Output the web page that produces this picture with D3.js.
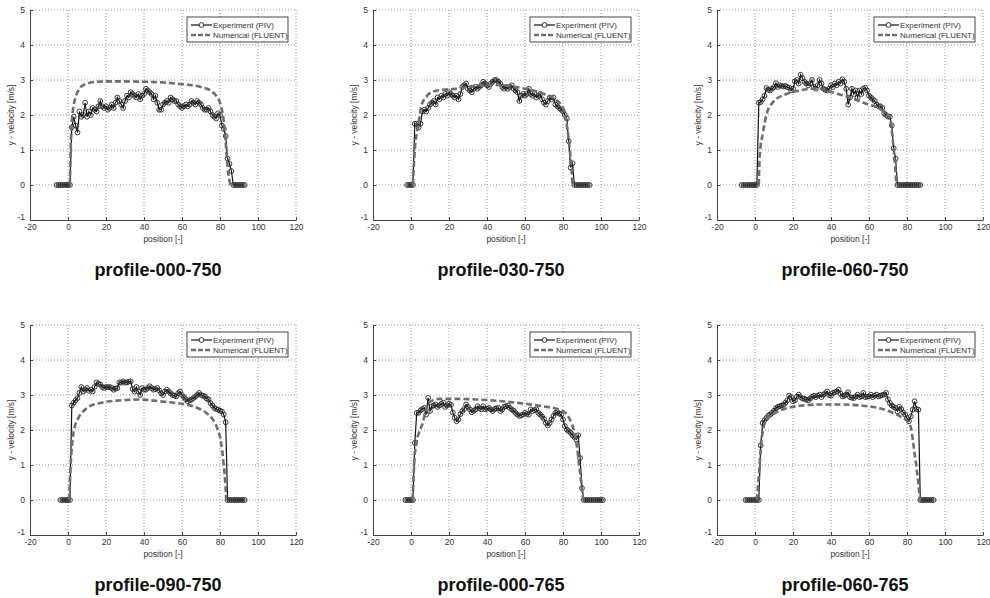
<!DOCTYPE html>
<html>
<head>
<meta charset="utf-8">
<script src="https://cdn.jsdelivr.net/npm/d3@7"></script>
<style>
  body { margin: 0; background: #fff; }
  svg { display: block; font-family: "Liberation Sans", Arial, sans-serif; }
</style>
</head>
<body>
<svg id="fig" width="990" height="598"></svg>
<script>
// tick values shared by all panels
var xTicks = [-20, 0, 20, 40, 60, 80, 100, 120];
var yTicks = [-1, 0, 1, 2, 3, 4, 5];

var titles = ["profile-000-750", "profile-030-750", "profile-060-750",
              "profile-090-750", "profile-000-765", "profile-060-765"];

// PIV experiment: first position and velocities at unit spacing
var expStart = [-6, -2, -7, -4, -3, -5];

var exp000750 = [0,0,0,0,0,0,0,0,1.65,1.95,1.7,1.5,2.1,1.95,2.0,2.35,1.95,2.1,2.0,2.2,2.15,2.1,2.25,2.4,2.25,2.2,
  2.25,2.15,2.2,2.3,2.2,2.35,2.5,2.4,2.3,2.2,2.4,2.55,2.5,2.65,2.6,2.55,2.5,2.6,2.45,2.55,2.6,2.75,2.7,2.65,
  2.6,2.45,2.55,2.35,2.15,2.15,2.3,2.35,2.4,2.35,2.5,2.45,2.4,2.4,2.3,2.25,2.2,2.25,2.3,2.25,2.3,2.4,2.35,2.3,
  2.4,2.35,2.3,2.2,2.15,2.15,2.2,2.1,2.0,1.95,1.9,2.05,2.0,1.7,1.6,1.4,0.75,0.6,0.4,0,0,0,0,0,0,0];
var exp030750 = [0,0,0,0,1.75,1.75,1.65,1.75,2.1,2.15,2.1,2.2,2.3,2.35,2.4,2.3,2.5,2.45,2.55,2.5,2.6,2.55,2.65,2.6,
  2.55,2.5,2.55,2.45,2.6,2.8,2.85,2.9,2.75,2.7,2.65,2.75,2.8,2.75,2.8,2.85,2.95,2.9,2.85,2.8,2.9,2.95,3.0,3.0,
  2.95,2.9,2.8,2.75,2.8,2.75,2.8,2.85,2.75,2.7,2.65,2.4,2.55,2.6,2.55,2.6,2.75,2.6,2.55,2.6,2.5,2.55,2.6,2.45,
  2.35,2.3,2.4,2.5,2.45,2.5,2.3,2.25,2.2,2.15,2.1,2.0,1.9,1.25,0.5,0.62,0,0,0,0,0,0,0,0,0];
var exp060750 = [0,0,0,0,0,0,0,0,0,2.35,2.37,2.45,2.55,2.77,2.72,2.7,2.75,2.8,2.91,2.8,2.85,2.83,2.82,2.83,2.8,2.78,
  2.7,2.75,2.96,3.0,2.9,3.15,3.05,2.95,2.9,2.85,2.9,3.0,2.8,2.75,2.85,3.0,2.9,2.75,2.72,2.7,2.75,2.85,2.8,2.9,
  2.85,2.95,2.9,3.02,2.95,2.75,2.3,2.5,2.75,2.6,2.7,2.5,2.7,2.6,2.75,2.78,2.7,2.55,2.5,2.45,2.4,2.3,2.25,2.25,
  2.2,2.05,2.0,1.95,1.95,1.7,1.05,0.75,0,0,0,0,0,0,0,0,0,0,0,0,0];
var exp090750 = [0,0,0,0,0,0,2.7,2.78,2.85,2.91,3.06,3.23,3.1,3.15,3.2,3.12,3.15,3.1,3.23,3.36,3.32,3.3,3.23,3.2,
  3.23,3.22,3.23,3.2,3.15,3.18,3.2,3.36,3.35,3.39,3.35,3.36,3.38,3.39,3.17,3.1,3.23,3.1,3.0,3.2,3.15,3.15,3.2,
  3.25,3.2,3.15,3.17,3.2,3.13,3.05,3.0,3.1,3.15,3.1,3.05,3.0,2.98,2.96,3.05,3.1,3.0,2.94,2.88,2.82,2.85,2.87,
  2.91,2.95,3.0,3.06,3.0,2.98,2.96,2.9,2.87,2.77,2.7,2.63,2.6,2.58,2.55,2.53,2.44,2.22,0,0,0,0,0,0,0,0,0,0];
var exp000765 = [0,0,0,0,0,1.63,2.49,2.49,2.56,2.6,2.63,2.44,2.92,2.54,2.68,2.7,2.73,2.66,2.7,2.75,2.78,2.66,2.7,
  2.75,2.72,2.5,2.35,2.25,2.3,2.45,2.54,2.6,2.73,2.66,2.59,2.51,2.55,2.59,2.68,2.62,2.59,2.68,2.59,2.61,2.63,
  2.59,2.54,2.6,2.62,2.63,2.54,2.59,2.66,2.68,2.7,2.63,2.59,2.55,2.49,2.44,2.4,2.42,2.44,2.49,2.46,2.44,2.59,
  2.54,2.57,2.59,2.49,2.44,2.38,2.32,2.2,2.13,2.2,2.3,2.4,2.49,2.51,2.47,2.44,2.3,2.11,2.01,1.97,1.92,1.85,
  1.8,1.73,1.85,1.2,0.34,0,0,0,0,0,0,0,0,0,0,0];
var exp060765 = [0,0,0,0,0,0,0,0,1.56,2.2,2.28,2.34,2.41,2.44,2.49,2.55,2.62,2.66,2.68,2.7,2.72,2.78,2.85,2.98,
  2.94,2.82,2.85,2.95,3.01,2.94,2.9,2.89,2.87,2.85,2.9,2.95,2.98,2.94,2.98,3.01,2.94,3.01,3.05,3.1,3.0,2.98,
  3.06,3.08,3.1,3.15,3.04,2.96,2.98,3.01,3.08,2.94,2.92,2.91,2.96,3.01,2.94,2.96,3.06,2.94,2.95,2.96,3.01,2.94,
  2.98,3.01,2.96,2.98,3.0,3.01,3.06,2.87,2.77,2.7,2.66,2.63,2.53,2.66,2.6,2.5,2.44,2.34,2.25,2.39,2.58,2.82,
  2.6,2.58,0,0,0,0,0,0,0,0];

// FLUENT numerical profiles
var numX000750 = [1,1.5,2.5,4,6,8,10,15,20,30,40,50,60,70,75,78,80,82,83,84,85.5];
var numY000750 = [0,1.2,2.1,2.5,2.75,2.85,2.9,2.95,2.96,2.96,2.95,2.93,2.88,2.8,2.7,2.55,2.35,1.8,1.2,0.5,0];
var numX030750 = [1,2,3.7,5.4,8.1,11.6,16.8,22,27.4,30,40,50,60,70,77,80,82.6,83.9,85];
var numY030750 = [0,1.0,1.67,2.25,2.53,2.67,2.72,2.74,2.77,2.8,2.86,2.84,2.75,2.6,2.4,2.2,1.48,0.82,0];
var numX060750 = [2,2.5,4.2,6,9.5,16.5,23.5,30,34,40,45,50,58.5,65.5,71,72.6,74,74.5];
var numY060750 = [0,0.85,1.5,2.0,2.37,2.6,2.7,2.75,2.75,2.66,2.58,2.5,2.32,2.18,1.9,1.23,0.37,0];
var numX090750 = [0.65,1.35,2.4,3.6,5.4,8,11.5,16.75,25.5,37.75,48.25,57,65.75,72.75,76.25,78.9,80.6,81.85,82.9,83.25];
var numY090750 = [0,0.96,1.72,2.1,2.34,2.53,2.68,2.77,2.84,2.87,2.82,2.77,2.68,2.49,2.3,2.0,1.63,1.06,0.39,0];
var numX000765 = [0.9,1.8,3,4.8,6.2,7.5,9.7,14.9,23.6,35.8,48.1,58.5,69,77.7,82.1,84.4,86.1,87.3,88.6,90,90.6];
var numY000765 = [0,1.15,1.68,2.01,2.2,2.5,2.8,2.89,2.89,2.87,2.82,2.76,2.68,2.59,2.44,2.2,1.92,1.54,0.96,0.3,0];
var numX060765 = [1,2.1,3.3,4.6,6,9.5,16.5,25.3,34,44.6,55.1,65.6,72.6,77.9,81,82.3,83.5,84.9,86.3,86.8];
var numY060765 = [0,0.77,1.63,2.1,2.3,2.45,2.62,2.7,2.73,2.73,2.7,2.62,2.49,2.34,2.2,2.0,1.53,0.96,0.3,0];

var expSeries = [exp000750, exp030750, exp060750, exp090750, exp000765, exp060765];
var numXs = [numX000750, numX030750, numX060750, numX090750, numX000765, numX060765];
var numYs = [numY000750, numY030750, numY060750, numY090750, numY000765, numY060765];

var colLeft = [30, 373, 717],
    rowTop = [10, 325],
    plotW = 266,
    plotH = 210;

// plain hyphen minus like the original figure
var fmt = function (d) { return String(d); };

var svg = d3.select("#fig");

titles.forEach(function (title, i) {
  var left = colLeft[i % 3], top = rowTop[Math.floor(i / 3)];
  var g = svg.append("g").attr("transform", "translate(" + left + "," + top + ")");

  var x = d3.scaleLinear().domain([-20, 120]).range([0, plotW]);
  var y = d3.scaleLinear().domain([-1, 5]).range([plotH, 0]);

  // dotted grid
  g.append("g").selectAll("line").data(xTicks.slice(1)).enter().append("line")
      .attr("x1", function (d) { return x(d); }).attr("x2", function (d) { return x(d); })
      .attr("y1", 0).attr("y2", plotH)
      .attr("stroke", "#9a9a9a").attr("stroke-dasharray", "1,2");
  g.append("g").selectAll("line").data(yTicks.slice(1)).enter().append("line")
      .attr("x1", 0).attr("x2", plotW)
      .attr("y1", function (d) { return y(d); }).attr("y2", function (d) { return y(d); })
      .attr("stroke", "#9a9a9a").attr("stroke-dasharray", "1,2");

  // axes, ticks pointing inwards
  var ax = g.append("g").attr("transform", "translate(0," + plotH + ")")
      .call(d3.axisBottom(x).tickValues(xTicks).tickFormat(fmt).tickSize(-3).tickPadding(5).tickSizeOuter(0));
  var ay = g.append("g")
      .call(d3.axisLeft(y).tickValues(yTicks).tickFormat(fmt).tickSize(-3).tickPadding(5).tickSizeOuter(0));
  [ax, ay].forEach(function (a) {
    a.select(".domain").attr("stroke", "#444");
    a.selectAll(".tick line").attr("stroke", "#444");
    a.selectAll("text").attr("fill", "#333").style("font-size", "8.5px")
      .style("font-family", "Liberation Sans, Arial, sans-serif");
  });
  ay.selectAll("text").attr("dy", "0.35em");
  ay.selectAll(".tick").filter(function (d) { return d === -1; }).select("text").attr("dy", "-0.1em");
  ax.selectAll("text").attr("dy", "0.6em");

  g.append("text").attr("x", plotW / 2).attr("y", plotH + 22)
      .attr("text-anchor", "middle").attr("fill", "#333").style("font-size", "8.5px")
      .text("position [-]");
  g.append("text").attr("transform", "translate(-16," + (plotH / 2) + ") rotate(-90)")
      .attr("text-anchor", "middle").attr("fill", "#333").style("font-size", "8.5px")
      .text("y - velocity [m/s]");

  // experiment
  var pts = expSeries[i].map(function (v, k) { return [expStart[i] + k, v]; });
  var line = d3.line().x(function (d) { return x(d[0]); }).y(function (d) { return y(d[1]); });
  g.append("path").datum(pts).attr("d", line)
      .attr("fill", "none").attr("stroke", "#111").attr("stroke-width", 1.2);
  g.append("g").selectAll("circle").data(pts).enter().append("circle")
      .attr("cx", function (d) { return x(d[0]); })
      .attr("cy", function (d) { return y(d[1]); })
      .attr("r", 2.4).attr("fill", "none").attr("stroke", "#222").attr("stroke-width", 0.9);

  // numerical
  var num = numXs[i].map(function (v, k) { return [v, numYs[i][k]]; });
  g.append("path").datum(num).attr("d", line.curve(d3.curveMonotoneX))
      .attr("fill", "none").attr("stroke", "#6e6e6e").attr("stroke-width", 2.6)
      .attr("stroke-dasharray", "6,3");

  // legend
  var lg = g.append("g").attr("transform", "translate(" + (plotW - 109) + ",7)");
  lg.append("rect").attr("width", 101).attr("height", 25)
      .attr("fill", "#fff").attr("stroke", "#333").attr("stroke-width", 0.9);
  lg.append("line").attr("x1", 4).attr("x2", 25).attr("y1", 8).attr("y2", 8)
      .attr("stroke", "#111").attr("stroke-width", 1.2);
  lg.append("circle").attr("cx", 14.5).attr("cy", 8).attr("r", 2.4)
      .attr("fill", "#fff").attr("stroke", "#222").attr("stroke-width", 0.9);
  lg.append("line").attr("x1", 4).attr("x2", 25).attr("y1", 18).attr("y2", 18)
      .attr("stroke", "#6e6e6e").attr("stroke-width", 2.4).attr("stroke-dasharray", "5,2");
  lg.append("text").attr("x", 26).attr("y", 11).attr("fill", "#333").style("font-size", "8px")
      .text("Experiment (PIV)");
  lg.append("text").attr("x", 26).attr("y", 21).attr("fill", "#333").style("font-size", "8px")
      .text("Numerical (FLUENT)");

  // panel caption
  g.append("text").attr("x", plotW / 2 - 5).attr("y", plotH + 56)
      .attr("text-anchor", "middle").attr("fill", "#111")
      .style("font-size", "18px").style("font-weight", "bold")
      .text(title);
});
</script>
</body>
</html>
